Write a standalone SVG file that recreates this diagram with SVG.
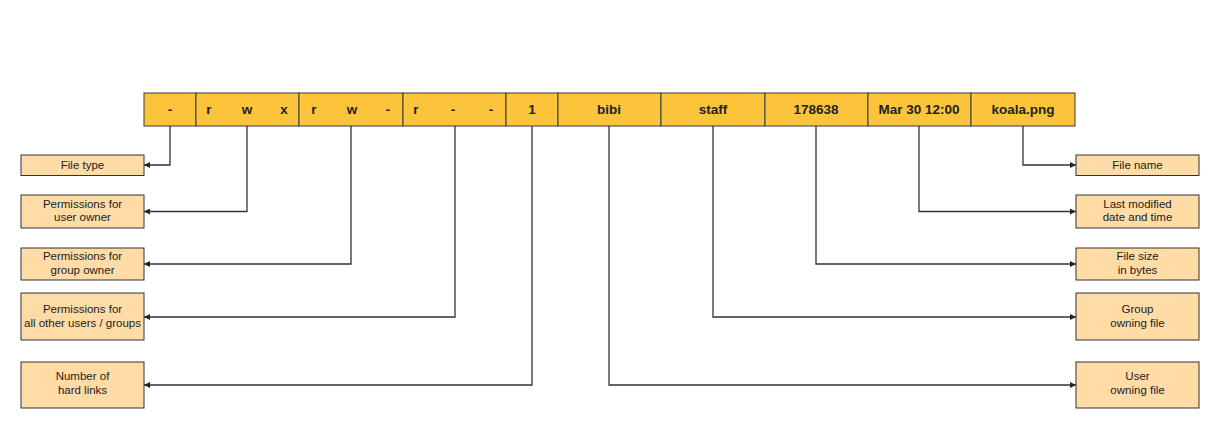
<svg xmlns="http://www.w3.org/2000/svg" width="1220" height="429" viewBox="0 0 1220 429">
<defs>
<style>
.cell{fill:#FCC43A;stroke:#3a3a3a;stroke-width:1}
.box{fill:#FFDBA6;stroke:#333;stroke-width:1}
.bt{font-family:"Liberation Sans",Arial,sans-serif;font-size:13.5px;font-weight:bold;fill:#222;text-anchor:middle}
.lt{font-family:"Liberation Sans",Arial,sans-serif;font-size:11.5px;fill:#222;text-anchor:middle}
.con{fill:none;stroke:#333;stroke-width:1.3}
</style>
<marker id="ah" viewBox="0 0 10 10" refX="10" refY="5" markerWidth="8" markerHeight="6" markerUnits="userSpaceOnUse" orient="auto">
<path d="M0,0 L10,5 L0,10 z" fill="#222"/>
</marker>
</defs>
<rect width="1220" height="429" fill="#fff"/>
<g id="bar">
<rect class="cell" x="144" y="93" width="52" height="33"/>
<rect class="cell" x="196" y="93" width="103" height="33"/>
<rect class="cell" x="299" y="93" width="104" height="33"/>
<rect class="cell" x="403" y="93" width="103" height="33"/>
<rect class="cell" x="506" y="93" width="52" height="33"/>
<rect class="cell" x="558" y="93" width="103" height="33"/>
<rect class="cell" x="661" y="93" width="104" height="33"/>
<rect class="cell" x="765" y="93" width="103" height="33"/>
<rect class="cell" x="868" y="93" width="103" height="33"/>
<rect class="cell" x="971" y="93" width="104" height="33"/>
<text class="bt" x="170" y="114">-</text>
<text class="bt" x="209" y="114">r</text>
<text class="bt" x="247" y="114">w</text>
<text class="bt" x="284" y="114">x</text>
<text class="bt" x="314" y="114">r</text>
<text class="bt" x="352" y="114">w</text>
<text class="bt" x="388" y="114">-</text>
<text class="bt" x="416" y="114">r</text>
<text class="bt" x="453" y="114">-</text>
<text class="bt" x="491" y="114">-</text>
<text class="bt" x="532" y="114">1</text>
<text class="bt" x="609" y="114">bibi</text>
<text class="bt" x="713" y="114">staff</text>
<text class="bt" x="816" y="114">178638</text>
<text class="bt" x="919" y="114">Mar 30 12:00</text>
<text class="bt" x="1023" y="114">koala.png</text>
</g>
<g id="connectors">
<path class="con" d="M170,126 V165 H144" marker-end="url(#ah)"/>
<path class="con" d="M247,126 V211.5 H144" marker-end="url(#ah)"/>
<path class="con" d="M351,126 V264 H144" marker-end="url(#ah)"/>
<path class="con" d="M455,126 V317 H144" marker-end="url(#ah)"/>
<path class="con" d="M532,126 V385 H144" marker-end="url(#ah)"/>
<path class="con" d="M1023,126 V165 H1076" marker-end="url(#ah)"/>
<path class="con" d="M919,126 V211.5 H1076" marker-end="url(#ah)"/>
<path class="con" d="M816,126 V264 H1076" marker-end="url(#ah)"/>
<path class="con" d="M713,126 V317 H1076" marker-end="url(#ah)"/>
<path class="con" d="M609,126 V385 H1076" marker-end="url(#ah)"/>
</g>
<g id="file-type">
<rect class="box" x="21" y="155" width="123" height="20.5"/>
<text class="lt" x="82.5" y="169">File type</text>
</g>
<g id="perm-user">
<rect class="box" x="21" y="195" width="123" height="33"/>
<text class="lt" x="82.5" y="207.5">Permissions for</text>
<text class="lt" x="82.5" y="221">user owner</text>
</g>
<g id="perm-group">
<rect class="box" x="21" y="248" width="123" height="32"/>
<text class="lt" x="82.5" y="260">Permissions for</text>
<text class="lt" x="82.5" y="273.5">group owner</text>
</g>
<g id="perm-other">
<rect class="box" x="21" y="293" width="123" height="47"/>
<text class="lt" x="82.5" y="313">Permissions for</text>
<text class="lt" x="82.5" y="326.5">all other users / groups</text>
</g>
<g id="hard-links">
<rect class="box" x="21" y="362" width="123" height="46"/>
<text class="lt" x="82.5" y="380">Number of</text>
<text class="lt" x="82.5" y="393.5">hard links</text>
</g>
<g id="file-name">
<rect class="box" x="1076" y="155" width="123" height="20.5"/>
<text class="lt" x="1137.5" y="169">File name</text>
</g>
<g id="last-modified">
<rect class="box" x="1076" y="195" width="123" height="33"/>
<text class="lt" x="1137.5" y="207.5">Last modified</text>
<text class="lt" x="1137.5" y="221">date and time</text>
</g>
<g id="file-size">
<rect class="box" x="1076" y="248" width="123" height="32"/>
<text class="lt" x="1137.5" y="260">File size</text>
<text class="lt" x="1137.5" y="273.5">in bytes</text>
</g>
<g id="group-owning">
<rect class="box" x="1076" y="293" width="123" height="47"/>
<text class="lt" x="1137.5" y="313">Group</text>
<text class="lt" x="1137.5" y="326.5">owning file</text>
</g>
<g id="user-owning">
<rect class="box" x="1076" y="362" width="123" height="46"/>
<text class="lt" x="1137.5" y="380">User</text>
<text class="lt" x="1137.5" y="393.5">owning file</text>
</g>
</svg>
